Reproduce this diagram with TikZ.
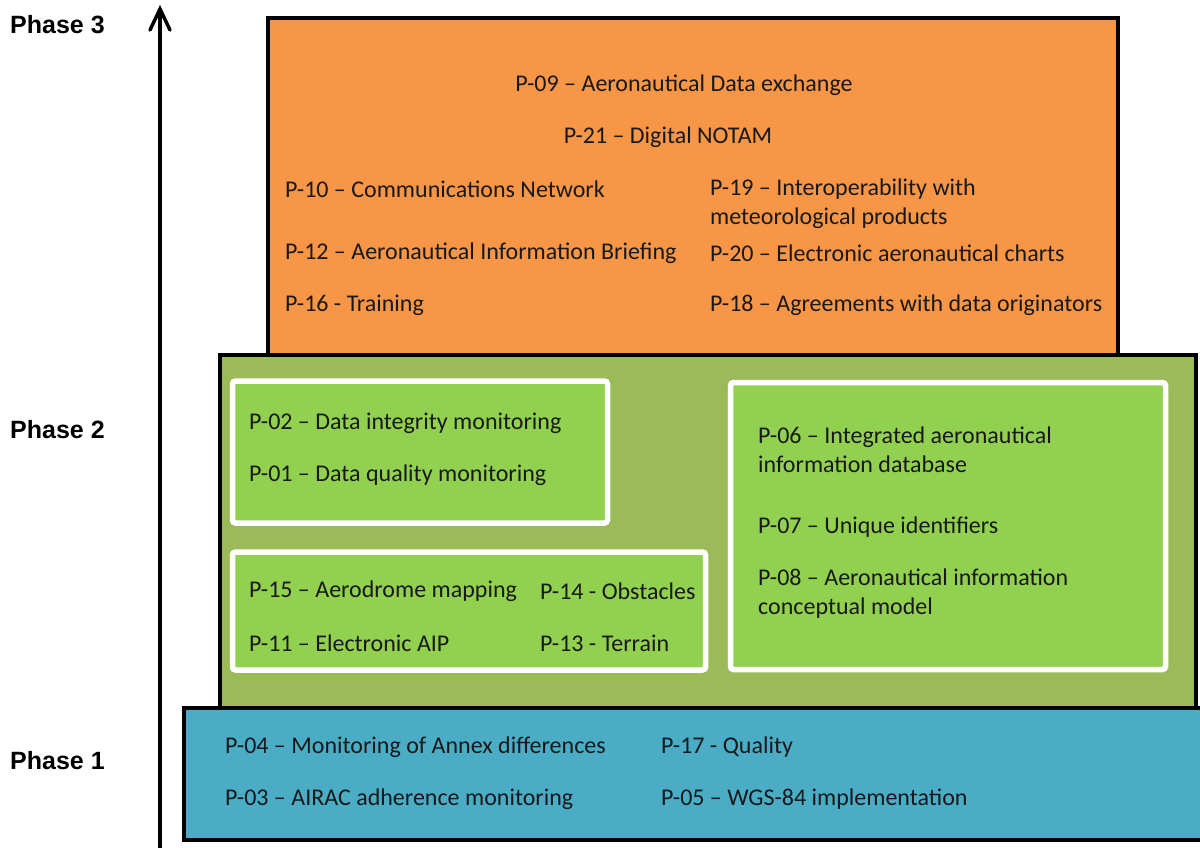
\documentclass[tikz,border=0pt]{standalone}
\usepackage{fontspec}
\setmainfont{Carlito}
\newfontfamily\phasefont{Liberation Sans}
\usetikzlibrary{arrows.meta,shadows}
\definecolor{orangeF}{HTML}{F79646}
\definecolor{greenO}{HTML}{9BBB59}
\definecolor{greenI}{HTML}{92D050}
\definecolor{blueP}{HTML}{4BACC6}
\begin{document}
\begin{tikzpicture}[x=1pt,y=-1pt,
 layer/.style={draw=black, line width=4pt, inner sep=0pt},
 innerbox/.style={draw=white, line width=5.5pt, fill=greenI, rounded corners=3pt, inner sep=0pt,
   drop shadow={opacity=0.35, shadow xshift=2pt, shadow yshift=-2pt}},
 txt/.style={anchor=west, inner sep=0pt, align=left, font=\fontsize{24}{29}\selectfont, text=black!90},
 ctxt/.style={txt, anchor=center},
 phase/.style={anchor=west, inner sep=0pt, font=\phasefont\bfseries\fontsize{25}{30}\selectfont}]
\useasboundingbox (0,0) rectangle (1200,848);
\fill[white] (0,0) rectangle (1200,848);

% axis
\coordinate (axisbot) at (160,852);
\coordinate (axistop) at (160,9);
\draw[line width=3.5pt] (axisbot) -- ([yshift=-2pt]axistop);
\draw[line width=3.5pt, line cap=round, line join=miter]
  ([xshift=-10pt,yshift=-21pt]axistop) -- (axistop) -- ([xshift=10pt,yshift=-21pt]axistop);

% phase labels
\node[phase] (lab3) at (10,25) {Phase 3};
\node[phase] (lab2) at (10,430) {Phase 2};
\node[phase] (lab1) at (10,761) {Phase 1};

% layer boxes
\node[layer, fill=orangeF, minimum width=850pt, minimum height=337pt] (ph3) at (693,186.5) {};
\node[layer, fill=greenO, minimum width=976pt, minimum height=353pt] (ph2) at (708,531.5) {};
\node[layer, fill=blueP, minimum width=1020pt, minimum height=132pt] (ph1) at (694,774) {};

% inner boxes
\node[innerbox, minimum width=375pt, minimum height=142pt] (ibA) at (420,452) {};
\node[innerbox, minimum width=473pt, minimum height=118pt] (ibB) at (469,611) {};
\node[innerbox, minimum width=435pt, minimum height=287pt] (ibC) at (948,526) {};

% phase 3 texts
\node[ctxt] (p09) at (684,85) {P-09 – Aeronautical Data exchange};
\node[ctxt] (p21) at (668,137) {P-21 – Digital NOTAM};
\node[txt] (p10) at (285,189) {P-10 – Communications Network};
\node[txt] (p19) at (710,203.5) {P-19 – Interoperability with\\meteorological products};
\node[txt] (p12) at (285,253) {P-12 – Aeronautical Information Briefing};
\node[txt] (p20) at (710,253) {P-20 – Electronic aeronautical charts};
\node[txt] (p16) at (285,305) {P-16 - Training};
\node[txt] (p18) at (710,305) {P-18 – Agreements with data originators};

% phase 2 texts
\node[txt] (p02) at (249,423) {P-02 – Data integrity monitoring};
\node[txt] (p01) at (249,475) {P-01 – Data quality monitoring};
\node[txt] (p15) at (249,591) {P-15 – Aerodrome mapping};
\node[txt] (p14) at (540,591) {P-14 - Obstacles};
\node[txt] (p11) at (249,643) {P-11 – Electronic AIP};
\node[txt] (p13) at (540,643) {P-13 - Terrain};
\node[txt] (p06) at (758,450) {P-06 – Integrated aeronautical\\information database};
\node[txt] (p07) at (758,527) {P-07 – Unique identifiers};
\node[txt] (p08) at (758,593.5) {P-08 – Aeronautical information\\conceptual model};

% phase 1 texts
\node[txt] (p04) at (225,747) {P-04 – Monitoring of Annex differences};
\node[txt] (p17) at (661,747) {P-17 - Quality};
\node[txt] (p03) at (225,799) {P-03 – AIRAC adherence monitoring};
\node[txt] (p05) at (661,799) {P-05 – WGS-84 implementation};
\end{tikzpicture}
\end{document}
